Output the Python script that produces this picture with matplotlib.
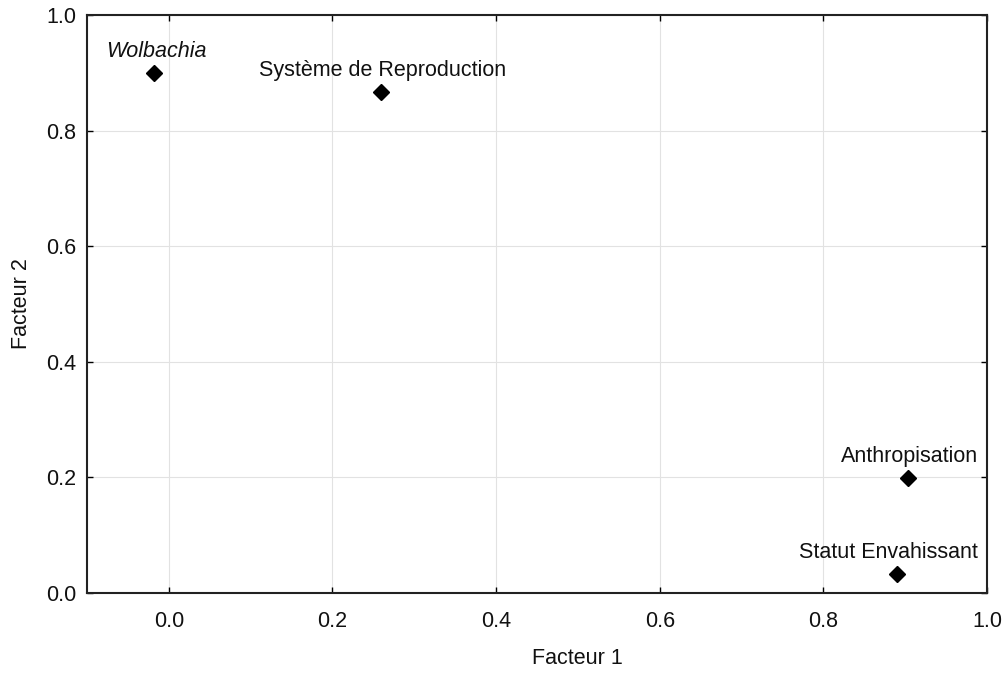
import matplotlib
matplotlib.use("Agg")
import matplotlib.pyplot as plt

labels = ["Wolbachia", "Système de Reproduction", "Anthropisation", "Statut Envahissant"]
facteur1 = [-0.018, 0.259, 0.904, 0.890]
facteur2 = [0.900, 0.867, 0.199, 0.033]
italic = [True, False, False, False]
label_dx = [2, 1, 1, -6]

xticks = [0.0, 0.2, 0.4, 0.6, 0.8, 1.0]
yticks = [0.0, 0.2, 0.4, 0.6, 0.8, 1.0]

plt.rcParams['font.family'] = ['Liberation Sans', 'DejaVu Sans']

fig = plt.figure(figsize=(10.07, 6.73), dpi=100)
ax = fig.add_axes([87/1007, 1 - 593/673, (987-87)/1007, (593-15)/673])

ax.plot(facteur1, facteur2, linestyle='none', marker='D', color='black', markersize=8)
for x, y, t, it, dx in zip(facteur1, facteur2, labels, italic, label_dx):
    ax.annotate(t, (x, y), xytext=(dx, 8), textcoords='offset points', ha='center', va='bottom',
                fontsize=15.5, style='italic' if it else 'normal', color='#111111')

ax.set_xlim(-0.1, 1.0)
ax.set_ylim(0.0, 1.0)
ax.set_xticks(xticks)
ax.set_yticks(yticks)
ax.set_xticklabels([f"{v:.1f}" for v in xticks])
ax.set_yticklabels([f"{v:.1f}" for v in yticks])
ax.grid(True, color='#e2e2e2', linewidth=0.8)
ax.set_axisbelow(True)
ax.tick_params(direction='in', length=4, width=1, top=True, right=True, labelsize=15.5, pad=8,
               labelcolor='#111111')
ax.tick_params(axis='x', pad=13)
for s in ax.spines.values():
    s.set_linewidth(1.5)
    s.set_color('#222222')
ax.set_xlabel("Facteur 1", fontsize=15.5, color='#111111')
ax.set_ylabel("Facteur 2", fontsize=15.5, color='#111111')
ax.xaxis.set_label_coords((577 - 87) / 900, -(659 - 593) / 578)
ax.xaxis.label.set_va('center')
ax.yaxis.set_label_coords(-(87 - 22) / 900, 0.5)
ax.yaxis.label.set_va('center')

fig.savefig("out.png", dpi=100)
